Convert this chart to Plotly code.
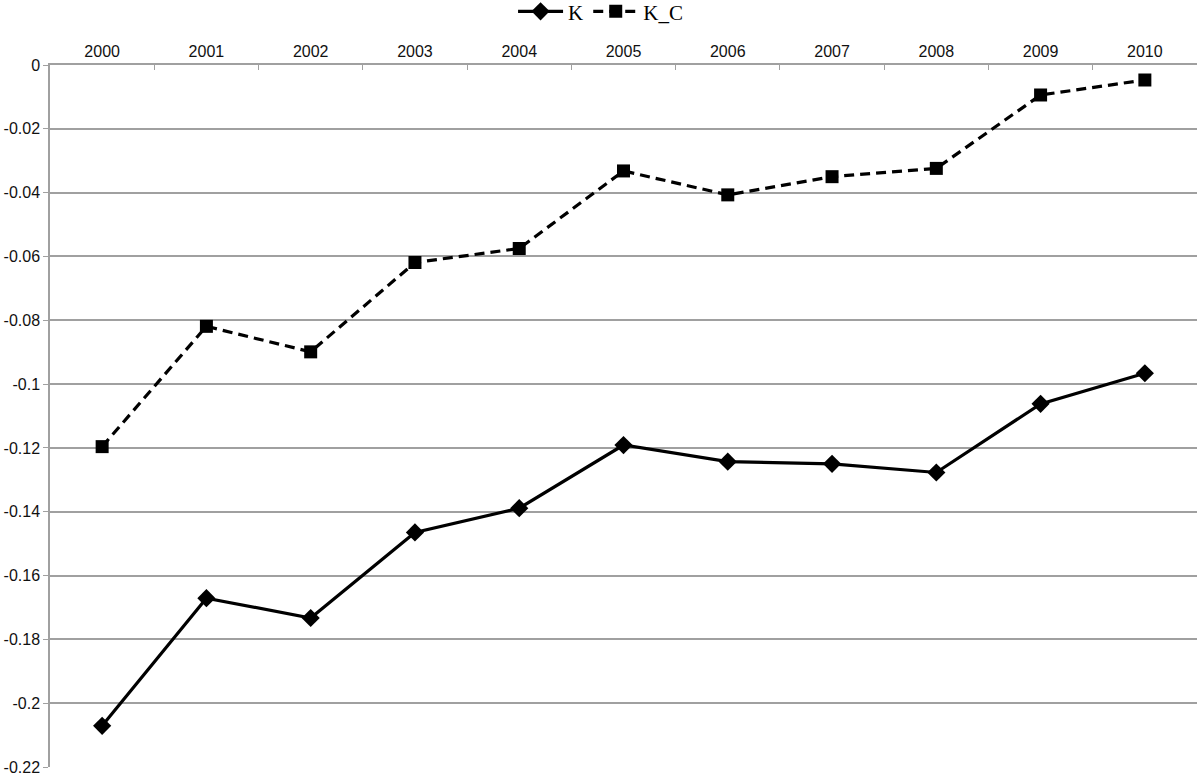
import plotly.graph_objects as go

years = ["2000", "2001", "2002", "2003", "2004", "2005", "2006", "2007", "2008", "2009", "2010"]
k_values = [-0.2071, -0.1671, -0.1733, -0.1465, -0.1389, -0.1191, -0.1243, -0.1250, -0.1277, -0.1062, -0.0966]
kc_values = [-0.1196, -0.0819, -0.0899, -0.0619, -0.0575, -0.0332, -0.0407, -0.0350, -0.0324, -0.0094, -0.0047]
y_ticks = [0, -0.02, -0.04, -0.06, -0.08, -0.1, -0.12, -0.14, -0.16, -0.18, -0.2, -0.22]
y_tick_labels = ["0", "-0.02", "-0.04", "-0.06", "-0.08", "-0.1", "-0.12", "-0.14", "-0.16", "-0.18", "-0.2", "-0.22"]

fig = go.Figure()
fig.add_trace(go.Scatter(
    x=years, y=k_values, name="K", mode="lines+markers",
    line=dict(color="black", width=3.2),
    marker=dict(symbol="diamond", size=14, color="black"),
))
fig.add_trace(go.Scatter(
    x=years, y=kc_values, name="K_C", mode="lines+markers",
    line=dict(color="black", width=3.2, dash="10px,6px"),
    marker=dict(symbol="square", size=13, color="black"),
))

fig.update_layout(
    width=1200, height=778,
    margin=dict(l=50, r=3, t=65, b=11),
    paper_bgcolor="white", plot_bgcolor="white",
    font=dict(family="Liberation Sans, Arial, sans-serif", size=16, color="#111111"),
    legend=dict(
        orientation="h", x=0.48, xanchor="center", y=0.985, yanchor="middle",
        yref="container",
        font=dict(family="Liberation Serif, Times New Roman, serif", size=21, color="black"),
        itemwidth=45, tracegroupgap=0,
    ),
    showlegend=True,
)

fig.update_xaxes(
    type="category", side="top", range=[-0.5, 10.5], automargin=False,
    showline=True, linecolor="#a0a0a0", linewidth=1.5,
    ticks="inside", tickson="boundaries", ticklen=5, tickcolor="#a0a0a0",
    showgrid=False, tickfont=dict(size=16),
)
fig.update_yaxes(
    range=[-0.22, 0], tickvals=y_ticks, ticktext=y_tick_labels, automargin=False,
    showline=True, linecolor="#a0a0a0", linewidth=1.5,
    ticks="outside", ticklen=5, tickcolor="#a0a0a0",
    showgrid=True, gridcolor="#a0a0a0", gridwidth=1.5,
    zeroline=False, tickfont=dict(size=16),
)

fig.write_html("out.html", config={"displayModeBar": False},
               post_script="document.body.style.margin='0';")
